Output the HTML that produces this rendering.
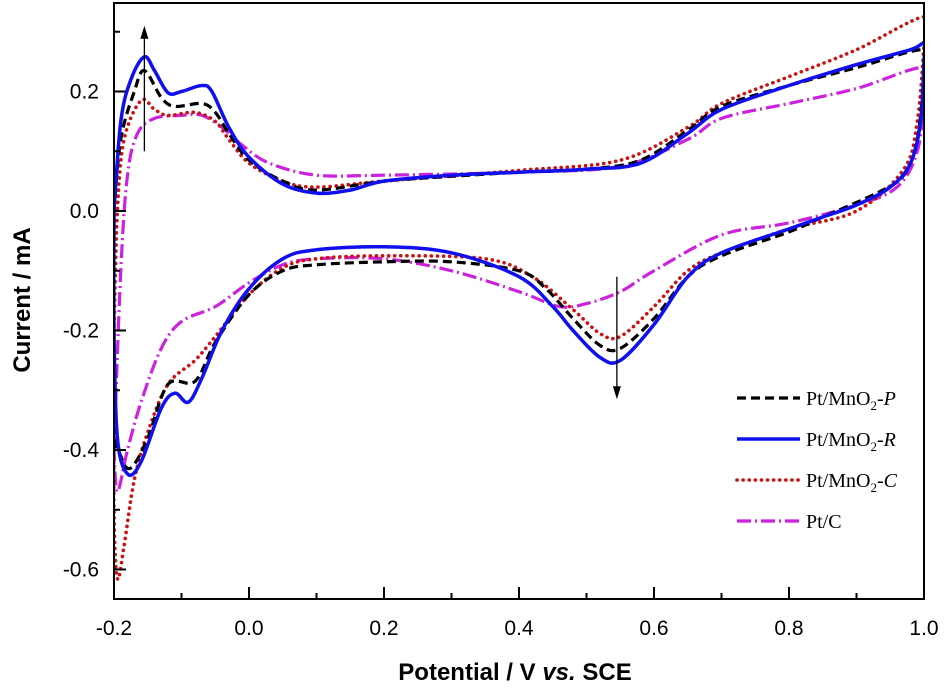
<!DOCTYPE html>
<html><head><meta charset="utf-8"><style>
body{margin:0;background:#fff;width:945px;height:691px;overflow:hidden}
svg{display:block}
</style></head><body>
<svg id="chart" width="945" height="691" xmlns="http://www.w3.org/2000/svg" font-family="Liberation Sans, sans-serif">
<g id="plot"></g>
</svg>
<script>
const xTicks = [-0.2,0.0,0.2,0.4,0.6,0.8,1.0];
const xTickLabels = ["-0.2","0.0","0.2","0.4","0.6","0.8","1.0"];
const yTicks = [-0.6,-0.4,-0.2,0.0,0.2];
const yTickLabels = ["-0.6","-0.4","-0.2","0.0","0.2"];
const seriesNames = ["Pt/MnO2-P","Pt/MnO2-R","Pt/MnO2-C","Pt/C"];
const seriesP = [[-0.2,0.0],[-0.19,0.12],[-0.17,0.2],[-0.155,0.235],[-0.13,0.19],[-0.11,0.175],[-0.07,0.18],[-0.05,0.165],[-0.03,0.13],[0,0.085],[0.05,0.05],[0.1,0.035],[0.2,0.05],[0.3,0.058],[0.4,0.065],[0.5,0.07],[0.58,0.085],[0.65,0.135],[0.7,0.175],[0.8,0.21],[0.9,0.24],[1.0,0.27],[1.0,0.23],[0.99,0.12],[0.97,0.06],[0.93,0.03],[0.85,-0.01],[0.8,-0.035],[0.7,-0.075],[0.65,-0.11],[0.6,-0.18],[0.55,-0.23],[0.52,-0.225],[0.48,-0.18],[0.44,-0.13],[0.4,-0.1],[0.3,-0.085],[0.2,-0.085],[0.1,-0.09],[0.05,-0.1],[0.0,-0.14],[-0.05,-0.22],[-0.08,-0.285],[-0.12,-0.29],[-0.15,-0.38],[-0.175,-0.43],[-0.19,-0.41],[-0.2,-0.35],[-0.2,0.0]];
const seriesR = [[-0.2,0.0],[-0.19,0.15],[-0.175,0.22],[-0.155,0.258],[-0.14,0.235],[-0.12,0.198],[-0.1,0.2],[-0.07,0.21],[-0.055,0.2],[-0.03,0.14],[0.0,0.09],[0.05,0.045],[0.1,0.03],[0.15,0.035],[0.2,0.05],[0.3,0.06],[0.4,0.065],[0.5,0.07],[0.58,0.08],[0.65,0.13],[0.7,0.17],[0.8,0.21],[0.9,0.245],[0.98,0.27],[1.0,0.28],[1.0,0.25],[0.995,0.15],[0.98,0.08],[0.95,0.04],[0.9,0.01],[0.85,-0.01],[0.8,-0.03],[0.7,-0.07],[0.65,-0.11],[0.6,-0.19],[0.55,-0.25],[0.52,-0.245],[0.48,-0.2],[0.45,-0.16],[0.4,-0.11],[0.3,-0.07],[0.2,-0.06],[0.1,-0.065],[0.05,-0.08],[0.0,-0.13],[-0.04,-0.2],[-0.07,-0.28],[-0.09,-0.32],[-0.11,-0.305],[-0.13,-0.33],[-0.16,-0.42],[-0.18,-0.44],[-0.195,-0.38],[-0.2,-0.2],[-0.2,0.0]];
const seriesC = [[-0.2,-0.2],[-0.195,0.0],[-0.185,0.12],[-0.16,0.185],[-0.14,0.17],[-0.12,0.16],[-0.08,0.165],[-0.05,0.15],[-0.03,0.12],[0,0.08],[0.05,0.05],[0.1,0.04],[0.2,0.05],[0.4,0.068],[0.55,0.085],[0.65,0.14],[0.7,0.18],[0.8,0.225],[0.9,0.27],[1.0,0.325],[1.0,0.28],[0.99,0.15],[0.97,0.07],[0.9,0.0],[0.8,-0.03],[0.7,-0.07],[0.65,-0.1],[0.6,-0.16],[0.55,-0.21],[0.52,-0.205],[0.48,-0.165],[0.42,-0.11],[0.35,-0.08],[0.2,-0.075],[0.1,-0.08],[0.05,-0.095],[0,-0.14],[-0.05,-0.21],[-0.08,-0.25],[-0.12,-0.29],[-0.15,-0.37],[-0.17,-0.45],[-0.185,-0.56],[-0.195,-0.615],[-0.2,-0.5],[-0.2,-0.2]];
const seriesPtC = [[-0.2,-0.4],[-0.19,-0.1],[-0.18,0.06],[-0.165,0.13],[-0.14,0.155],[-0.1,0.16],[-0.07,0.16],[-0.04,0.14],[-0.01,0.11],[0.03,0.08],[0.1,0.06],[0.2,0.06],[0.4,0.065],[0.55,0.075],[0.65,0.12],[0.7,0.155],[0.8,0.18],[0.9,0.205],[1.0,0.24],[1.0,0.19],[0.99,0.1],[0.96,0.04],[0.9,0.01],[0.8,-0.02],[0.7,-0.04],[0.6,-0.1],[0.55,-0.135],[0.5,-0.155],[0.46,-0.16],[0.4,-0.135],[0.3,-0.1],[0.2,-0.08],[0.1,-0.08],[0.05,-0.09],[0.0,-0.12],[-0.05,-0.16],[-0.1,-0.185],[-0.13,-0.23],[-0.16,-0.32],[-0.18,-0.4],[-0.195,-0.47],[-0.2,-0.4]];
const arrowUp = [-0.155,0.1,0.31];
const arrowDown = [0.545,-0.11,-0.315];

const L=114,R=924,T=3,B=599;
const X=v=>L+(v+0.2)/1.2*(R-L);
const Y=v=>211-v/0.2*119.5;
const NS='http://www.w3.org/2000/svg';
const svg=document.getElementById('chart');
function mk(tag,attrs,parent){const e=document.createElementNS(NS,tag);for(const k in attrs)e.setAttribute(k,attrs[k]);(parent||svg).appendChild(e);return e;}
function smooth(pts){
  const p=pts.map(a=>[X(a[0]),Y(a[1])]);
  let d='M'+p[0][0].toFixed(1)+' '+p[0][1].toFixed(1);
  for(let i=0;i<p.length-1;i++){
    const p0=p[Math.max(0,i-1)],p1=p[i],p2=p[i+1],p3=p[Math.min(p.length-1,i+2)];
    const c1=[p1[0]+(p2[0]-p0[0])/6,p1[1]+(p2[1]-p0[1])/6];
    const c2=[p2[0]-(p3[0]-p1[0])/6,p2[1]-(p3[1]-p1[1])/6];
    d+=' C'+c1[0].toFixed(1)+' '+c1[1].toFixed(1)+' '+c2[0].toFixed(1)+' '+c2[1].toFixed(1)+' '+p2[0].toFixed(1)+' '+p2[1].toFixed(1);
  }
  return d;
}
const plot=document.getElementById('plot');
const styles=[
 {data:seriesP,stroke:'#000',dash:'9 5',w:3.2,cap:'butt',name:'series-pt-mno2-p'},
 {data:seriesR,stroke:'#1010ee',dash:'',w:3.5,cap:'butt',name:'series-pt-mno2-r'},
 {data:seriesC,stroke:'#cc1111',dash:'0.1 6',w:3.6,cap:'round',name:'series-pt-mno2-c'},
 {data:seriesPtC,stroke:'#cc22dd',dash:'14 4 2 4',w:3.2,cap:'butt',name:'series-pt-c'}];
const clip=mk('clipPath',{id:'cp'});mk('rect',{x:L,y:T,width:R-L,height:B-T},clip);
const order=[3,2,0,1];
order.forEach(i=>{const s=styles[i];
  const p=mk('path',{d:smooth(s.data),fill:'none',stroke:s.stroke,'stroke-width':s.w,'stroke-dasharray':s.dash,'stroke-linecap':s.cap,'clip-path':'url(#cp)'},plot);
  
  
});
[[arrowUp,1],[arrowDown,-1]].forEach(([a,dir],k)=>{
  const x=X(a[0]),y1=Y(a[1]),y2=Y(a[2]);
  const l=mk('line',{x1:x,y1:y1,x2:x,y2:y2+dir*10,stroke:'#000','stroke-width':1.3});
  
  
  const h=mk('polygon',{points:`${x},${y2} ${x-4},${y2+dir*13} ${x+4},${y2+dir*13}`,fill:'#000'});
  
  
});
const fr=mk('rect',{x:L,y:T,width:R-L,height:B-T,fill:'none',stroke:'#000','stroke-width':2});


for(let v=-0.2;v<=1.001;v+=0.1){const x=X(v);const major=Math.abs(Math.round(v*10))%2===0;
  const t=mk('line',{x1:x,x2:x,y1:B,y2:B-(major?12:6),stroke:'#000','stroke-width':2});
  
  }
xTicks.forEach((v,i)=>{const t=mk('text',{x:X(v),y:B+36,'text-anchor':'middle','font-size':21});t.textContent=xTickLabels[i];
  
  });
for(let v=-0.6;v<=0.3001;v+=0.1){const y=Y(v);const major=Math.abs(Math.round(v*10))%2===0;
  const t=mk('line',{x1:L,x2:L+(major?12:6),y1:y,y2:y,stroke:'#000','stroke-width':2});
  
  }
yTicks.forEach((v,i)=>{const t=mk('text',{x:L-15,y:Y(v)+7,'text-anchor':'end','font-size':21});t.textContent=yTickLabels[i];
  
  });
</script>
<svg style="position:absolute;left:0;top:0" width="945" height="691" font-family="Liberation Sans, sans-serif">
<text x="515" y="680" text-anchor="middle" font-size="24" font-weight="bold">Potential / V <tspan font-style="italic">vs.</tspan> SCE</text>
<text transform="translate(30,300) rotate(-90)" text-anchor="middle" font-size="24" font-weight="bold">Current / mA</text>
<g font-family="Liberation Serif, serif" font-size="20">
<line x1="737" x2="800" y1="398" y2="398" stroke="#000" stroke-width="3.2" stroke-dasharray="9 5"/>
<text x="806" y="405">Pt/MnO<tspan font-size="13" dy="5">2</tspan><tspan dy="-5">-</tspan><tspan font-style="italic">P</tspan></text>
<line x1="737" x2="800" y1="439" y2="439" stroke="#1010ee" stroke-width="3.5"/>
<text x="806" y="446">Pt/MnO<tspan font-size="13" dy="5">2</tspan><tspan dy="-5">-</tspan><tspan font-style="italic">R</tspan></text>
<line x1="737" x2="800" y1="480" y2="480" stroke="#cc1111" stroke-width="3.6" stroke-dasharray="0.1 6" stroke-linecap="round"/>
<text x="806" y="487">Pt/MnO<tspan font-size="13" dy="5">2</tspan><tspan dy="-5">-</tspan><tspan font-style="italic">C</tspan></text>
<line x1="737" x2="800" y1="521" y2="521" stroke="#cc22dd" stroke-width="3.2" stroke-dasharray="14 4 2 4"/>
<text x="806" y="528">Pt/C</text>
</g>
</svg>
</body></html>
